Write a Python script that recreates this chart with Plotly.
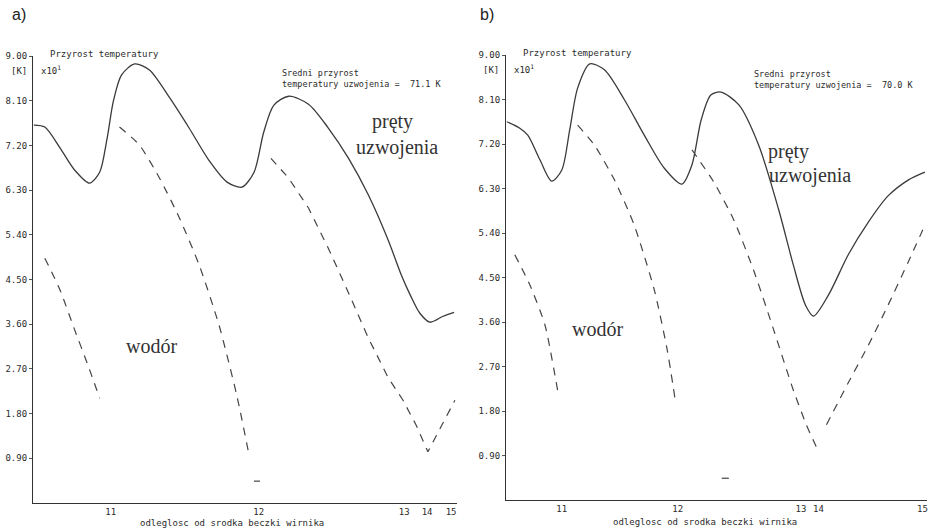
import plotly.graph_objects as go

# x: position along the axis in % of axis length, y: temperature rise [K] x10^1

# ---- panel a) ----
a_tick_pos = [18.4, 53.5, 88.0, 93.4, 99.1]
a_tick_txt = ["11", "12", "13", "14", "15"]

a_bar_x = [0.2, 2.8, 6.4, 9.9, 13.4, 15.8, 17.5, 19.1, 21.0, 24.1, 27.6, 32.3, 37.0, 41.7, 46.0, 49.5,
           52.4, 54.7, 57.1, 60.6, 65.3, 70.0, 74.8, 79.5, 84.2, 87.3, 89.4, 91.7, 94.1, 97.2, 99.8]
a_bar_y = [7.61, 7.57, 7.15, 6.70, 6.44, 6.66, 7.31, 8.11, 8.62, 8.84, 8.72, 8.17, 7.55, 6.90, 6.46, 6.36,
           6.66, 7.47, 8.01, 8.19, 8.03, 7.55, 6.94, 6.20, 5.29, 4.59, 4.19, 3.82, 3.64, 3.76, 3.84]

a_h2_seg1_x = [2.8, 6.4, 9.9, 13.0, 15.8]
a_h2_seg1_y = [4.93, 4.29, 3.48, 2.78, 2.11]
a_h2_seg2_x = [20.5, 25.2, 30.0, 34.7, 39.4, 44.1, 48.3, 51.2]
a_h2_seg2_y = [7.57, 7.21, 6.54, 5.74, 4.79, 3.58, 2.17, 0.97]
a_h2_seg3_x = [56.4, 60.6, 65.3, 70.0, 74.8, 79.5, 84.2, 87.7, 90.8, 93.6, 96.8, 100.0]
a_h2_seg3_y = [6.94, 6.54, 5.94, 5.13, 4.23, 3.32, 2.52, 2.07, 1.57, 1.03, 1.55, 2.07]
a_mark_x = [52.4, 53.8]
a_mark_y = [0.44, 0.44]

# ---- panel b) ----
b_tick_pos = [13.3, 41.0, 70.4, 74.6, 99.4]
b_tick_txt = ["11", "12", "13", "14", "15"]

b_bar_x = [0.2, 3.3, 5.2, 8.1, 10.9, 13.3, 15.2, 17.1, 20.0, 23.5, 28.3, 33.0, 37.8, 42.0, 44.4, 46.6,
           48.9, 51.3, 55.6, 60.3, 65.1, 68.6, 71.5, 73.4, 77.0, 81.7, 86.5, 91.2, 96.0, 100.0]
b_bar_y = [7.65, 7.52, 7.38, 6.88, 6.45, 6.67, 7.48, 8.33, 8.82, 8.70, 8.09, 7.38, 6.71, 6.39, 6.78, 7.69,
           8.19, 8.25, 7.99, 7.18, 5.87, 4.75, 3.94, 3.72, 4.15, 4.96, 5.62, 6.15, 6.47, 6.63]

b_h2_seg1_x = [2.1, 5.7, 9.3, 12.4]
b_h2_seg1_y = [4.96, 4.35, 3.54, 2.18]
b_h2_seg2_x = [17.1, 21.1, 25.9, 30.6, 35.4, 38.5, 40.4]
b_h2_seg2_y = [7.58, 7.18, 6.47, 5.56, 4.25, 3.03, 2.02]
b_h2_seg3_x = [44.4, 49.6, 54.4, 59.1, 63.9, 68.6, 71.7, 74.1]
b_h2_seg3_y = [7.08, 6.43, 5.66, 4.65, 3.44, 2.22, 1.52, 1.07]
b_h2_seg4_x = [76.5, 81.7, 86.5, 91.2, 96.0, 100.0]
b_h2_seg4_y = [1.52, 2.37, 3.13, 3.94, 4.81, 5.56]
b_mark_x = [51.5, 53.2]
b_mark_y = [0.44, 0.44]

y_ticks = [0.9, 1.8, 2.7, 3.6, 4.5, 5.4, 6.3, 7.2, 8.1, 9.0]

INK = "#2b2b2b"
MONO = "DejaVu Sans Mono"
SERIF = "Liberation Serif"

fig = go.Figure()


def add_solid(x, y, xa, ya):
    fig.add_trace(go.Scatter(x=x, y=y, mode="lines", xaxis=xa, yaxis=ya,
                             line=dict(color="#3a3a3a", width=1.3, shape="spline", smoothing=0.8),
                             showlegend=False, hoverinfo="skip"))


def add_dashed(x, y, xa, ya):
    fig.add_trace(go.Scatter(x=x, y=y, mode="lines", xaxis=xa, yaxis=ya,
                             line=dict(color="#444444", width=1.2, dash="8px,7px", shape="spline", smoothing=0.6),
                             showlegend=False, hoverinfo="skip"))


add_solid(a_bar_x, a_bar_y, "x", "y")
for sx, sy in [(a_h2_seg1_x, a_h2_seg1_y), (a_h2_seg2_x, a_h2_seg2_y)]:
    add_dashed(sx, sy, "x", "y")
fig.add_trace(go.Scatter(x=a_h2_seg3_x, y=a_h2_seg3_y, mode="lines", xaxis="x", yaxis="y",
                         line=dict(color="#444444", width=1.2, dash="8px,7px"),
                         showlegend=False, hoverinfo="skip"))
fig.add_trace(go.Scatter(x=a_mark_x, y=a_mark_y, mode="lines", xaxis="x", yaxis="y",
                         line=dict(color="#444444", width=1.2), showlegend=False, hoverinfo="skip"))

add_solid(b_bar_x, b_bar_y, "x2", "y2")
for sx, sy in [(b_h2_seg1_x, b_h2_seg1_y), (b_h2_seg2_x, b_h2_seg2_y),
               (b_h2_seg3_x, b_h2_seg3_y), (b_h2_seg4_x, b_h2_seg4_y)]:
    add_dashed(sx, sy, "x2", "y2")
fig.add_trace(go.Scatter(x=b_mark_x, y=b_mark_y, mode="lines", xaxis="x2", yaxis="y2",
                         line=dict(color="#444444", width=1.2), showlegend=False, hoverinfo="skip"))

tickfont = dict(family=MONO, size=9, color=INK)
xcommon = dict(range=[0, 100.5], showline=True, linecolor="#333333", linewidth=1.2, showgrid=False,
               zeroline=False, ticks="", tickfont=tickfont, fixedrange=True, automargin=False)
ycommon = dict(range=[0, 9.0], tickvals=y_ticks, tickformat=".2f", showline=True, linecolor="#333333",
               linewidth=1.2, showgrid=False, zeroline=False, ticks="outside", ticklen=3,
               tickcolor="#555555", tickfont=tickfont, fixedrange=True, automargin=False)

fig.update_layout(
    width=930, height=530,
    margin=dict(l=0, r=0, t=0, b=0, autoexpand=False),
    paper_bgcolor="white", plot_bgcolor="white",
    xaxis=dict(domain=[33 / 930, 457 / 930], anchor="y", tickvals=a_tick_pos, ticktext=a_tick_txt, **xcommon),
    yaxis=dict(domain=[1 - 503 / 530, 1 - 56 / 530], anchor="x", **ycommon),
    xaxis2=dict(domain=[506 / 930, 927 / 930], anchor="y2", tickvals=b_tick_pos, ticktext=b_tick_txt, **xcommon),
    yaxis2=dict(domain=[1 - 500 / 530, 1 - 55 / 530], anchor="x2", **ycommon),
)


def note(px, py, text, size=9, family=MONO, xanchor="left", color=INK):
    fig.add_annotation(x=px / 930, y=1 - py / 530, xref="paper", yref="paper", text=text,
                       showarrow=False, xanchor=xanchor, yanchor="middle", align="left",
                       font=dict(family=family, size=size, color=color))


note(10, 15, "a)", size=16, family="Liberation Sans", color="#222222")
note(478, 15, "b)", size=16, family="Liberation Sans", color="#222222")

# panel a texts
note(48, 54, "Przyrost temperatury")
note(29, 71, "[K]", xanchor="right")
note(39, 70, "x10<sup>1</sup>")
note(280, 79, "Sredni przyrost<br>temperatury uzwojenia =  71.1 K", size=8.5)
note(392, 122, "pręty", size=20, family=SERIF, xanchor="center", color="#333333")
note(397, 148, "uzwojenia", size=20, family=SERIF, xanchor="center", color="#333333")
note(151, 346, "wodór", size=20, family=SERIF, xanchor="center", color="#333333")
note(232, 523, "odleglosc od srodka beczki wirnika", xanchor="center")

# panel b texts
note(521, 53, "Przyrost temperatury")
note(501, 70, "[K]", xanchor="right")
note(512, 69, "x10<sup>1</sup>")
note(752, 80, "Sredni przyrost<br>temperatury uzwojenia =  70.0 K", size=8.5)
note(788, 151, "pręty", size=20, family=SERIF, xanchor="center", color="#333333")
note(810, 176, "uzwojenia", size=20, family=SERIF, xanchor="center", color="#333333")
note(597, 329, "wodór", size=20, family=SERIF, xanchor="center", color="#333333")
note(705, 522, "odleglosc od srodka beczki wirnika", xanchor="center")

# the page's default body margin would push the figure off by 8px
fig.write_html("out.html", config={"displayModeBar": False},
               post_script="document.body.style.margin='0';document.body.style.overflow='hidden';")
